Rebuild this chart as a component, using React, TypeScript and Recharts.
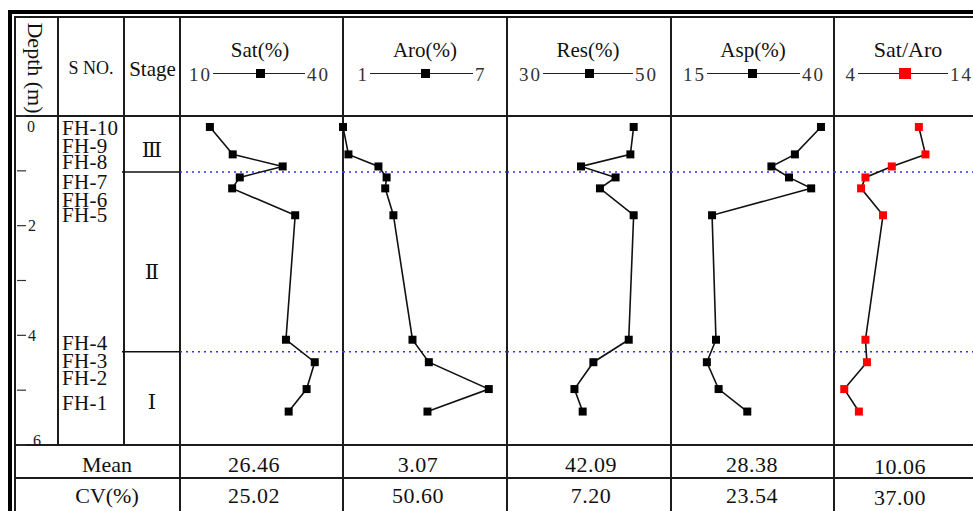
import React from 'react';
import { ScatterChart, Scatter, XAxis, YAxis, ZAxis, ReferenceLine } from 'recharts';

// ---------- data ----------
const samples = ['FH-10', 'FH-9', 'FH-8', 'FH-7', 'FH-6', 'FH-5', 'FH-4', 'FH-3', 'FH-2', 'FH-1'];
const depth = [0.2, 0.7, 0.92, 1.12, 1.32, 1.81, 4.08, 4.49, 4.98, 5.39];
const sat = [15.5, 19.7, 28.9, 21.0, 19.6, 31.2, 29.5, 34.8, 33.3, 30.0];
const aro = [1.0, 1.2, 2.3, 2.6, 2.55, 2.85, 3.55, 4.15, 6.35, 4.1];
const res = [45.4, 45.0, 39.0, 43.2, 41.3, 45.4, 44.8, 40.5, 38.2, 39.2];
const asp = [38.0, 34.0, 30.4, 33.1, 36.5, 21.3, 21.9, 20.5, 22.3, 26.7];
const satAro = [15.6, 16.5, 11.9, 8.3, 7.7, 10.7, 8.3, 8.5, 5.4, 7.4];

const stageBounds = [1.02, 4.3];
const stageNames = ['Ⅲ', 'Ⅱ', 'Ⅰ'];
const stageLabelDepth = [0.62, 2.84, 5.21];
const depthTicks = [0, 1, 2, 3, 4, 5, 6];

const panelTitles = ['Sat(%)', 'Aro(%)', 'Res(%)', 'Asp(%)', 'Sat/Aro'];
const scaleLo = ['10', '1', '30', '15', '4'];
const scaleHi = ['40', '7', '50', '40', '14'];
const panelDomains: [number, number][] = [[10, 40], [1, 7], [30, 50], [15, 40], [4, 23]];
const panelSeries = [sat, aro, res, asp, satAro];
const meanVals = ['26.46', '3.07', '42.09', '28.38', '10.06'];
const cvVals = ['25.02', '50.60', '7.20', '23.54', '37.00'];

// ---------- layout ----------
const W = 973;
const H = 511;
const PLOT_TOP = 116;
const PLOT_H = 329;
const M = 12;
const panelEdges = [180, 343, 506.5, 671, 834, 973];
const titleCx = [260, 425, 588, 753, 908];
const legLineL = [213, 370, 543, 707, 858];
const legLineR = [305, 473, 633, 800, 948];
const legSq = [260, 425, 589, 752, 905];
const valueCx = [254, 418, 591, 752, 900];
const sampleY = [128, 145.5, 162, 181.5, 199.5, 215, 343, 360.5, 377.5, 402.5];
const markerColors = ['#000', '#000', '#000', '#000', '#ff0000'];
const markerSize = [115, 115, 115, 115, 76];

const FONT = "'Liberation Serif', 'Times New Roman', 'DejaVu Serif', serif";
const LINE = '#1c1c1c';

const T = ({ cx, cy, size, children, anchor = 'middle', ls = 0, rotate = 0, color = '#111' }: any) => (
  <div
    style={{
      position: 'absolute',
      left: cx,
      top: cy,
      transform: `translate(${anchor === 'middle' ? '-50%' : anchor === 'end' ? '-100%' : '0'}, -50%)${rotate ? ` rotate(${rotate}deg)` : ''}`,
      fontSize: size,
      lineHeight: 1,
      whiteSpace: 'nowrap',
      letterSpacing: ls,
      color,
    }}
  >
    {children}
  </div>
);

const Box = ({ x, y, w, h, c = LINE }: any) => (
  <div style={{ position: 'absolute', left: x, top: y, width: w, height: h, background: c }} />
);

const Nothing = () => <g />;

const DepthTick = (props: any) => {
  const { x, y, payload } = props;
  const v = payload.value;
  if (v % 2 !== 0) return <g />;
  const dy = v === 0 ? 10 : v === 6 ? -5 : 0;
  const dx = v === 6 ? 5 : v === 0 ? -1 : 0;
  return (
    <text x={x + dx} y={y + dy} dy="0.35em" textAnchor="start" fontSize={16} fontFamily={FONT} fill="#1a1a1a">
      {v}
    </text>
  );
};

const anchorData = depth.map((d) => ({ depth: d, v: 0.5 }));

function Panel({ i }: { i: number }) {
  const x0 = panelEdges[i];
  const x1 = panelEdges[i + 1];
  const data = depth.map((d, k) => ({ depth: d, v: panelSeries[i][k], name: samples[k] }));
  return (
    <div style={{ position: 'absolute', left: x0 - M, top: PLOT_TOP - M }}>
      <ScatterChart width={x1 - x0 + 2 * M} height={PLOT_H + 2 * M} margin={{ top: M, right: M, bottom: M, left: M }}>
        <XAxis type="number" dataKey="v" domain={panelDomains[i]} hide />
        <YAxis type="number" dataKey="depth" domain={[0, 6]} reversed hide />
        <ZAxis range={[markerSize[i], markerSize[i]]} />
        {stageBounds.map((b) => (
          <ReferenceLine key={b} y={b} stroke="#2f2fff" strokeWidth={1.6} strokeDasharray="2 4" />
        ))}
        <Scatter
          data={data}
          fill={markerColors[i]}
          shape="square"
          line={{ stroke: '#111', strokeWidth: 1.6 }}
          isAnimationActive={false}
        />
      </ScatterChart>
    </div>
  );
}

export default function App() {
  return (
    <div
      style={{
        position: 'absolute',
        left: 0,
        top: 0,
        width: W,
        height: H,
        overflow: 'hidden',
        background: '#fff',
        fontFamily: FONT,
      }}
    >
      {/* outer frame */}
      <Box x={8} y={10} w={W - 8} h={4} c="#000" />
      <Box x={8} y={10} w={4} h={H - 10} c="#000" />
      <Box x={14} y={16} w={W - 14} h={2} />
      <Box x={14} y={16} w={2} h={H - 16} />
      {/* horizontal rules */}
      <Box x={14} y={115} w={W - 14} h={2} />
      <Box x={14} y={444} w={W - 14} h={2} />
      <Box x={14} y={477} w={W - 14} h={2} />
      {/* vertical rules */}
      <Box x={57} y={16} w={2} h={430} />
      <Box x={123} y={16} w={2} h={430} />
      {panelEdges.slice(0, 5).map((x) => (
        <Box key={x} x={x - 1} y={16} w={2} h={H - 16} />
      ))}

      {/* header left */}
      <T cx={34.5} cy={68} size={22} rotate={90}>Depth (m)</T>
      <T cx={91} cy={68} size={18}>S NO.</T>
      <T cx={152.5} cy={69} size={21}>Stage</T>

      {/* panel headers */}
      {panelTitles.map((t, i) => (
        <React.Fragment key={t}>
          <T cx={titleCx[i]} cy={50} size={i === 4 ? 22 : 21}>{t}</T>
          <T cx={legLineL[i] - 1} cy={73.5} size={19} anchor="end" ls={2} color="#333">{scaleLo[i]}</T>
          <T cx={legLineR[i] + 2} cy={73.5} size={19} anchor="start" ls={2} color="#333">{scaleHi[i]}</T>
          <Box x={legLineL[i]} y={72.5} w={legLineR[i] - legLineL[i]} h={1.5} c="#222" />
          {i === 4 ? (
            <Box x={legSq[i] - 6} y={67.5} w={12} h={11} c="#ff0000" />
          ) : (
            <Box x={legSq[i] - 4.5} y={68.5} w={9} h={9} c="#000" />
          )}
        </React.Fragment>
      ))}

      {/* sample labels */}
      {samples.map((s, k) => (
        <T key={s} cx={62} cy={sampleY[k]} size={21} anchor="start" ls={0.3}>{s}</T>
      ))}

      {/* depth axis */}
      <div style={{ position: 'absolute', left: 15, top: PLOT_TOP - M }}>
        <ScatterChart width={43} height={PLOT_H + 2 * M} margin={{ top: M, right: 0, bottom: M, left: 1 }}>
          <XAxis type="number" dataKey="v" domain={[0, 1]} hide />
          <YAxis
            type="number"
            dataKey="depth"
            orientation="right"
            domain={[0, 6]}
            reversed
            ticks={depthTicks}
            interval={0}
            width={41}
            axisLine={false}
            tickSize={9}
            tickMargin={2}
            tickLine={{ stroke: '#333', strokeWidth: 1.2 }}
            tick={DepthTick}
          />
          <Scatter data={anchorData} shape={Nothing} isAnimationActive={false} />
        </ScatterChart>
      </div>

      {/* stage column */}
      <div style={{ position: 'absolute', left: 122, top: PLOT_TOP - M }}>
        <ScatterChart width={58} height={PLOT_H + 2 * M} margin={{ top: M, right: 0, bottom: M, left: 0 }}>
          <XAxis type="number" dataKey="v" domain={[0, 1]} hide />
          <YAxis type="number" dataKey="depth" domain={[0, 6]} reversed hide />
          <Scatter data={anchorData} shape={Nothing} isAnimationActive={false} />
          {stageBounds.map((b) => (
            <ReferenceLine key={b} y={b} stroke="#111" strokeWidth={1.6} />
          ))}
          {stageNames.map((s, i) => (
            <ReferenceLine
              key={s}
              y={stageLabelDepth[i]}
              stroke="none"
              label={{ value: s, position: 'center', fill: '#111', fontSize: 21, fontFamily: FONT, dx: 1 }}
            />
          ))}
        </ScatterChart>
      </div>

      {/* panels */}
      {panelTitles.map((t, i) => (
        <Panel key={t} i={i} />
      ))}

      {/* footer rows */}
      <T cx={107} cy={465} size={22}>Mean</T>
      <T cx={107} cy={496} size={22}>CV(%)</T>
      {meanVals.map((v, i) => (
        <T key={'m' + i} cx={valueCx[i]} cy={i === 4 ? 467 : 465} size={22} ls={0.5}>{v}</T>
      ))}
      {cvVals.map((v, i) => (
        <T key={'c' + i} cx={valueCx[i]} cy={i === 4 ? 498 : 496} size={22} ls={0.5}>{v}</T>
      ))}
    </div>
  );
}
